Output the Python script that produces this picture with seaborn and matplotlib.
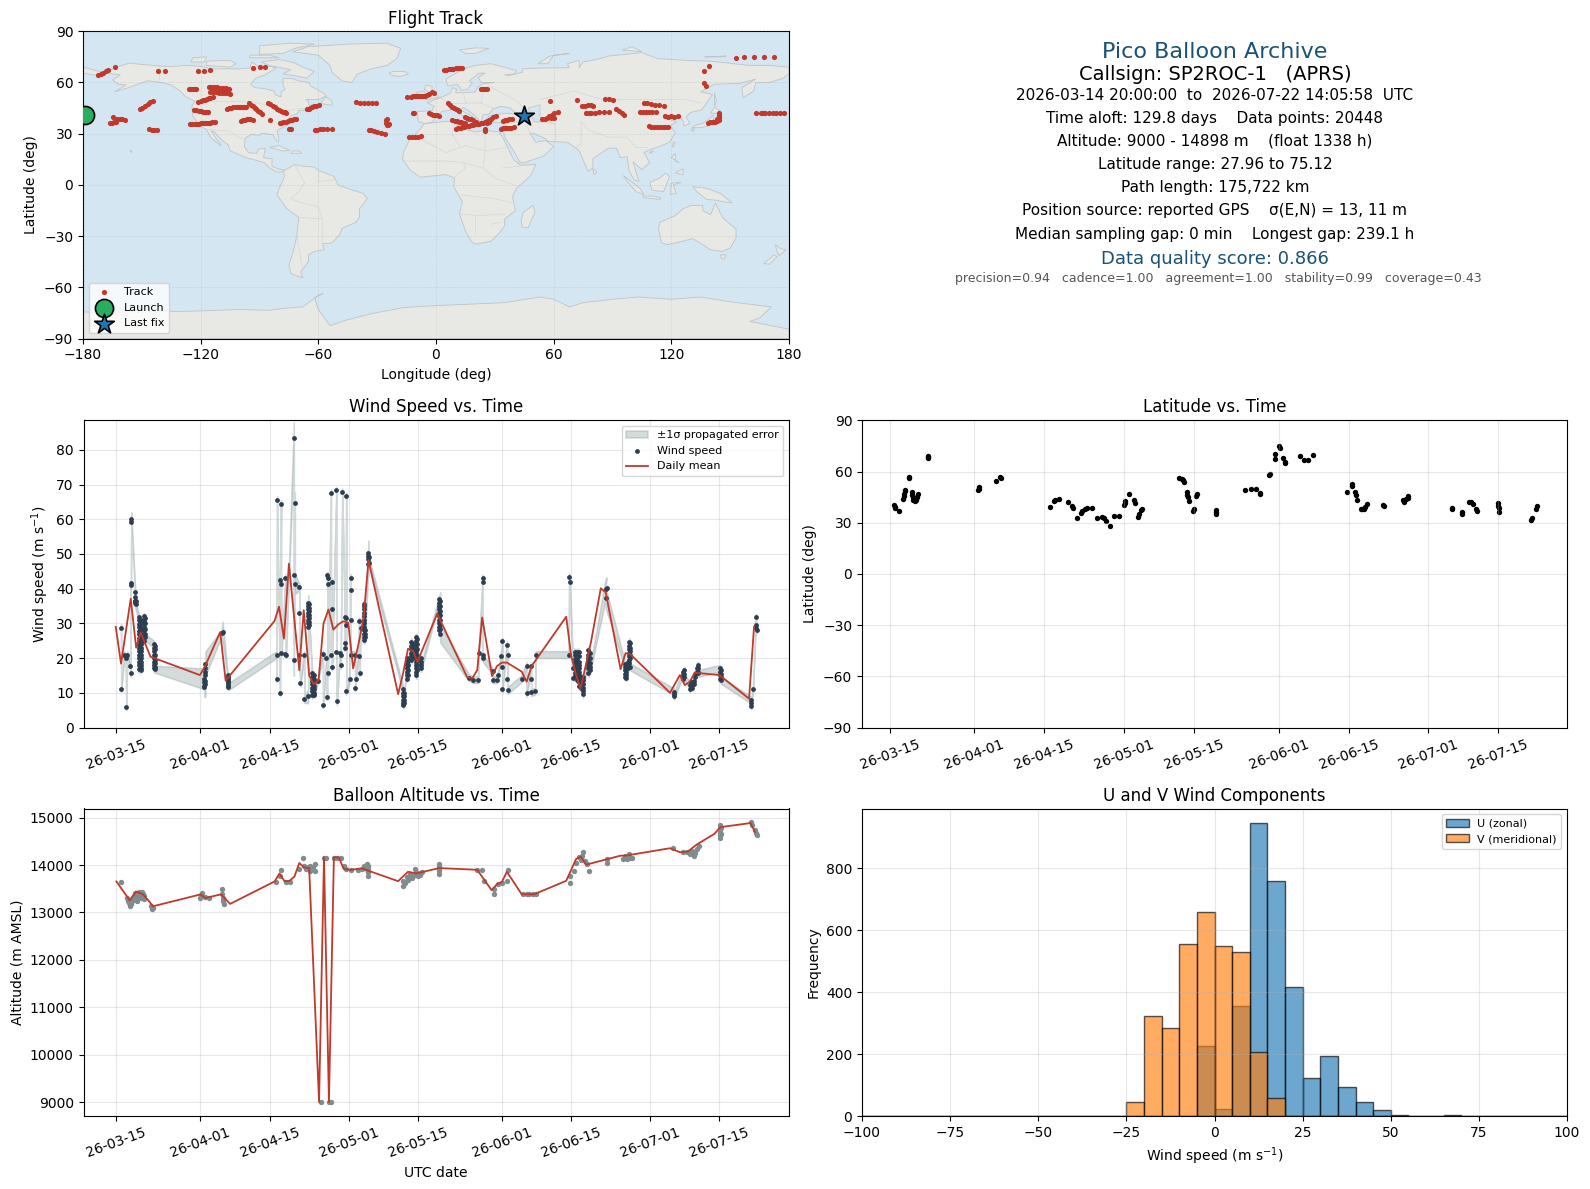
import matplotlib
matplotlib.use("Agg")
import matplotlib.dates as mdates
import matplotlib.pyplot as plt
import pandas as pd
import seaborn as sns

T0 = pd.Timestamp("2026-03-15")
T_START = pd.Timestamp("2026-03-14 20:00")
T_END = pd.Timestamp("2026-07-22 14:05")

# (lon, lat) fixes, one group per line
track_points = [
    (-172.3,64.3),(-171,65),(-170,65.5),(-168.5,66.7),(-167.5,67.4),(-163.5,68.9),
    (-166.4,36),(-165,36.5),(-164,36.8),(-163,37),(-164.5,39.5),(-162.5,38.8),(-161,38.9),(-160,38.5),(-158.7,37.8),
    (-150.7,44.4),(-150,45.3),(-148.5,46.2),(-147,47.3),(-146,48.3),(-144.2,49.1),
    (-146.3,32.7),(-145,32.4),(-143.8,32),(-142.5,31.9),
    (-141.7,66.5),(-138.1,66.5),(-121.2,66.5),(-118.2,66.5),(-115.1,67.1),(-93.1,68.5),(-90,68.9),(-87,68.9),
    (-125.8,55.9),(-124.8,55.9),(-123.8,55.9),(-122.8,56),(-122.4,55.9),
    (-116,57.3),(-114.5,57.3),(-113,57.3),(-111.5,57.2),(-110,57),(-108.5,57),(-107,56.8),(-113,55.8),(-111.5,55.6),(-110,55.6),(-108.5,55.6),(-107,55.6),(-105.5,56.3),
    (-115,54.7),(-113.5,54.5),(-112,54.3),(-110.5,54),(-109,54),(-107.5,54),(-106,53.8),(-105,53.2),
    (-121.2,48.7),(-120,49.2),(-119,49.6),(-118,49.9),(-117,50.3),(-116,50.7),(-115,51.2),(-113.9,51.6),
    (-123.4,43.8),(-122.2,43.6),(-121,43.3),(-120,43.2),(-119,43),(-118,42.9),(-117,42.9),(-116.1,42.8),
    (-125.5,35.4),(-124.3,35.5),(-123,35.7),(-122,35.7),(-121,35.9),(-120,36),(-119,36),(-118,36.2),(-117,36.2),(-116,36.4),(-115,36.5),(-114,36.6),(-112.7,36.9),
    (-106.7,44.6),(-105.5,44.8),(-104.5,45.2),(-103.3,45.4),(-102,45.6),(-101,45.6),(-100,45.8),(-99,45.8),(-97.8,45.8),(-96.9,45.8),
    (-99.6,37.5),(-98.6,37.9),(-97.6,38.1),(-96.6,38.4),(-95.6,38.4),(-94.6,38.5),(-93.5,38.3),
    (-95.2,47.7),(-94.3,46.8),(-93.3,46),(-92.5,45),(-91.8,44.3),(-91,43.4),(-90,42.7),(-88.7,41.5),
    (-85.5,48.1),(-84.4,47.3),(-83.3,46.3),(-82.2,45.5),(-81,44.6),(-80,43.8),(-79,43.2),(-78,42.9),(-77,42.6),(-76.4,42.4),
    (-84.4,38.3),
    (-79.8,36),(-78.8,36.2),(-77.8,36.6),(-76.7,37),(-75.6,37.4),(-74.5,37.8),(-73.4,38.1),(-72.3,38.4),(-71.3,38.7),
    (-75,33),(-74,32.6),
    (-65.9,44.2),(-65,44.6),(-64,45.1),(-63,45.7),(-62,46),(-61,46.5),(-59.9,46.9),
    (-61.6,32.1),(-60.5,32.3),(-59,32.5),(-57.5,32.5),(-55.5,32.5),(-53.1,32.5),
    (-41,48.5),(-39,47.7),(-36.8,47.7),(-34.7,47.7),(-32.7,47.7),(-30.6,47.7),
    (-34.4,31.9),(-33,31.9),(-31.5,31.7),(-30,31),(-28,30.5),(-25.8,29.9),
    (-25,38.9),(-25.3,37.9),(-25.5,36.5),(-25.2,35.2),(-24,35.5),(-24.5,35),
    (-13.9,27.8),(-12,27.8),(-10.5,27.8),(-9,28),(-7.9,28.6),
    (-14.8,51.6),(-13,51.6),(-11.5,52),(-10.5,52.3),(-9.5,52.3),(-8.5,52.3),(-7.5,52.3),(-6.5,52.3),(-5.5,52.3),(-4.5,52.5),(-3.5,53),(-2,54.6),(-1,54),
    (-11.8,41.9),(-11,41.9),(-3.7,41.9),(-2.5,41.7),(-1.5,41.2),(-0.5,41),(0.5,40.7),(1.4,40.5),
    (4,67.5),(5.2,67.6),(6.4,67.8),(7.6,68),(8.8,68.1),(10,68.3),(11.2,68.4),(12.4,68.5),(13.4,68.5),
    (22.7,55.9),(24,55.9),(25.2,55.9),(26.2,55.9),
    (6,47.7),(7,46.8),(8,45.9),(9,45),(10,44.4),(11,43.7),(11.7,43.4),
    (8.3,37.9),(9.5,37.6),(10.5,37.4),(11.5,37.1),(12.5,36.8),(13.5,36.4),(15,36),
    (10,33),(11.2,33.2),(12.5,33.5),(14.2,34),
    (15,39.5),(16,39.1),(17,38.8),(18,38.4),(19,37.8),(20.2,37),
    (15,34.4),(16,34.5),(17,34.8),(18,34.9),(19,35.2),(20.2,35.4),
    (21,35.6),(22,35.7),(23,36),(24,36.4),(25,36.8),(26,37.4),(27,38),(28,38.8),(29,39.5),(30.4,40.3),(26,36),(27,36.6),
    (24.8,31.5),(24.8,32.5),
    (34.3,37.3),(35.3,37.8),(36.3,38),(37.4,38.4),(38.6,38.9),
    (33,33),(34,33.1),(35,33.2),(36,33.4),(37,33.5),(38,33.6),(39.8,33.8),
    (54.3,38.7),(55.5,38.9),(56.5,39.4),(57.5,40.3),(58.5,39),(59,41),(60,42),(60,39),(62,42.6),(58.2,48.9),
    (72.1,49.7),(74.7,46.5),(76,46.5),(77.5,47),(79,46.7),(80.3,46.2),(86.3,50.1),(88,50.1),(90.5,49.5),
    (76.4,41.9),(77.8,41.9),(79,41.9),(81,42.1),(83,42.5),(85.5,43),(88,43),(91.7,44.2),(93.5,43.3),(94.8,42),(96,40.9),
    (106.2,47.7),(107.5,47.7),(109.5,47.3),(111.5,47),(113.5,46.6),(116.1,46.4),
    (104.2,43),(105.5,43),(107,43),(108.5,43),(110,43),(112.2,43),
    (108.8,34.6),(109.8,34.2),(111,33.9),(112.5,33.7),(114,33.7),(115.5,33.7),(117,33.7),(118.5,33.7),
    (117,40.1),(118.5,40),(120,40.1),(121.5,40),(123.2,40.1),
    (138.6,36.4),(139.5,36.6),(140.5,36.8),(141.5,36.9),(142.5,37.1),(143.5,37.3),(144.2,38),(144.5,39),(144.5,40),(144.5,41),(144.5,41.9),(143.5,38.5),(143,37.5),
    (136.9,59.5),(137.7,58),(136.9,66.5),(139.4,69.4),
    (153.2,74.1),(156.8,74.9),(161.9,74.9),(167,74.9),(172.1,74.9),
    (163,42.4),(165.5,42.4),(166.5,42.4),(168,42.4),(170,42.4),(172,41.9),(173.5,41.9),(175.5,41.9),(177.7,41.9),
]
launch_pos = (-179.1, 40.7)
last_pos = (44.9, 40.3)

# coarse land outlines, (lon, lat)
land_shapes = [
    [(-168,65.5),(-165,68),(-163,69),(-156.5,71.3),(-148,70.4),(-141,69.7),(-135,69.3),(-128,70),(-120,69.5),(-115,68),(-108,68),(-100,68),(-95,68.5),(-94,72),(-90,69),(-85,69.5),(-81.5,68.5),(-85,66),(-87,64.5),(-92,62.5),(-94.5,59),(-92.5,57),(-88,56.5),(-82.5,55),(-82,52.8),(-79,51.5),(-79,54.5),(-77,56),(-78,58.5),(-78,62.4),(-73.5,62.3),(-70,61),(-65,60),(-64,58),(-61.5,56.5),(-57,53.5),(-56,52),(-60,50),(-66.5,50),(-65,49),(-65,47),(-61,46),(-66,44),(-70,43.5),(-70.5,41.8),(-74,40.5),(-76,37),(-75.5,35.2),(-78,33.9),(-81,31.8),(-80.2,27),(-80.5,25.2),(-82,26.8),(-83,29.2),(-85,29.7),(-89,30.2),(-90,29),(-94,29.6),(-97.3,27.5),(-97.7,22.5),(-95.5,18.8),(-91.5,18.5),(-90.5,21),(-87,21.5),(-88,16),(-83.5,15.2),(-83.7,11),(-80,9.2),(-77.5,8.7),(-78.5,7.7),(-81,7.5),(-85,10),(-87.5,13),(-92,14.5),(-97,16),(-105,20),(-106,23.5),(-109,26),(-113,31),(-114.7,31.7),(-112,27),(-109.5,23),(-112,25),(-115,28),(-117,32.5),(-120.5,34.5),(-124,40.3),(-124.5,46),(-123,49),(-127.5,51.5),(-130.5,55),(-135,58.5),(-140,60),(-147,61),(-152,59),(-158,56.5),(-164,54.5),(-158,58.5),(-162,59),(-165,61.5),(-161,64.5)],
    [(-73,78),(-65,81),(-45,82.5),(-25,83),(-18,80),(-20,74),(-25,70),(-33,68),(-40,65),(-43,60),(-48,61),(-53,66),(-54,70),(-60,76)],
    [(-80,73.5),(-72,71.5),(-68,69),(-62,66.5),(-66,62.5),(-72,64),(-78,65),(-74,67.5),(-85,70),(-89,72)],
    [(-117,70),(-105,69),(-102,71),(-105,73),(-117,72.5)],
    [(-90,76.5),(-78,77),(-72,80),(-62,82.5),(-75,83),(-90,81.5)],
    [(-125,72),(-118,72),(-117,75),(-124,74.5)],
    [(-95,74.5),(-80,74.5),(-85,76),(-95,76)],
    [(-59,47.7),(-53,46.7),(-53,49),(-56,51.5)],
    [(-85,22),(-80,23),(-74.5,20.2),(-78,19.9)],
    [(-74,18.5),(-68.5,18.5),(-70,19.9),(-73,19.9)],
    [(-156,20.5),(-155,19.6),(-155.6,19)],
    [(-78,8),(-72,12),(-68,11),(-62,10.5),(-60,8.5),(-52,5),(-50,0),(-44,-2.5),(-37,-5),(-35,-8),(-39,-14),(-39,-19),(-41,-22),(-48,-25.5),(-49,-29),(-53,-34),(-58,-34.5),(-57,-38),(-62,-39),(-65,-41),(-65,-45),(-69,-51),(-68,-54.5),(-74,-52),(-75,-47),(-73,-40),(-71,-30),(-70,-19),(-76,-14),(-81,-6),(-80,-2),(-77.5,4),(-77.5,7)],
    [(-6,35.8),(3,37),(10,37.3),(11,33.5),(20,31),(25,32),(32,31),(34,28),(37,21),(39.5,15),(43,11.5),(51,12),(48,5),(41,-2),(39,-7),(40.5,-15),(35,-20),(35,-24),(32.5,-28),(28,-33),(20,-34.8),(18,-33),(15,-27),(12,-17),(13.5,-10),(9,-1),(9.5,4),(5,6),(-4,5),(-8,4.5),(-13,8.5),(-17,14.7),(-16.5,19.5),(-13,27.5),(-10,30)],
    [(49.5,-12),(50.5,-16),(47,-25),(44,-25),(43.5,-21),(44.5,-16)],
    [(-9,37),(-9.5,43),(-2,43.5),(-1,46),(-4.5,48.3),(2,51),(7,53.5),(8.5,57),(10.5,56),(10,54),(14,54),(20,54.5),(21,57),(24,59.3),(30,60),(23,60),(21.5,63),(25,65.5),(22,65.5),(17,61),(18.5,59.5),(16,56),(13,55.5),(11,59),(6,58),(5,62),(14,68),(20,70),(28,71),(41,67),(40,65),(35,64.5),(37,64),(44,66),(44,68),(54,68.5),(68,68.7),(67,71),(73,73),(73,68.5),(75,72),(82,73.5),(88,75.5),(105,77.5),(113,74),(127,73),(140,72.5),(160,70),(170,70),(180,69),(180,65),(177,62.5),(170,60),(163,59.8),(162,55),(156.5,51),(156,57),(163,62),(155,59.5),(142,59),(135,54.5),(141,53),(135.5,44),(130,42.5),(127.5,39.8),(129.5,36),(126.5,34.5),(126,37.5),(124.5,40),(121,39),(118,39),(122.5,37),(119.5,34.5),(122,30.5),(119,25),(114,22.5),(110,21),(106,19),(109,13),(105,9),(100.5,13.5),(103.5,2),(101,3),(98.5,8),(97.5,16.5),(94,16),(92,21.5),(88,21.5),(80,15.5),(80,10),(77.5,8),(73,20),(72,21),(67,25),(57,25.5),(56,27),(50,30),(48,30),(51,25),(56,26),(60,22.5),(55,17),(45,13),(43,13),(39,21),(35,28),(34.5,31),(36,36.5),(30,36.5),(27,37),(26.5,40),(29,41),(36,42),(41,41.5),(38,45),(33,46),(29,44.5),(27,41.5),(24,41),(23,36.5),(19.5,41),(14,45.5),(12.5,44),(18.5,40),(16,38),(12,42),(9,44.3),(3,43),(0,39.5),(-2,36.8),(-5.5,36)],
    [(-180,69),(-175,67.5),(-170,66),(-173,64.3),(-180,65.5)],
    [(-5.5,50),(1.5,51.2),(0,53.5),(-2,56),(-2,57.7),(-5,58.5),(-6,56),(-3,54),(-5,52)],
    [(-10,52),(-6,52.3),(-6,55),(-10,54)],
    [(-24,65.5),(-22,64),(-18,63.5),(-14,65),(-16,66.5),(-22,66.5)],
    [(12,79),(20,80.3),(27,80),(20,77),(15,77)],
    [(52,71),(57,71),(60,76),(68,77),(58,75.5)],
    [(95,79),(105,78),(100,81)],
    [(137,75),(145,75),(148,75.5)],
    [(142,54),(143,49),(142,46),(142,50)],
    [(130.5,33.5),(135,33.5),(140,35),(141.5,38),(141.3,41),(139.7,39),(136,36),(132,35)],
    [(140,42),(143,42),(145,43.5),(142,45.5)],
    [(130,32),(131.5,31.5),(131.5,33.8)],
    [(120.5,23),(121,25),(122,25),(121,22)],
    [(109,18.5),(111,19.5),(110,20)],
    [(80,9.5),(82,7.5),(80.5,6)],
    [(95.5,5.5),(104,-2),(106,-5.8),(102,-4),(98,1.5)],
    [(105.5,-6.5),(111,-6.5),(114.5,-7.5),(114.5,-8.5),(106,-7.5)],
    [(109,1.5),(114,4),(117,7),(119,5),(117.5,0),(116,-4),(110,-3)],
    [(119.5,-5.5),(120,1),(125,1.5),(121,0),(122.5,-5)],
    [(131,-1),(138,-2),(145,-5),(151,-10.5),(147,-10),(143,-9),(138,-8.5),(133,-4)],
    [(120,16),(122,18.5),(122,14),(124,13)],
    [(122,7),(126,9.5),(126,6)],
    [(114,-22),(122,-18),(126,-14),(130,-12),(136,-12),(136,-15),(140,-17.5),(142.5,-10.7),(146,-19),(153,-26),(153,-31),(150,-37),(146,-39),(140,-38),(136,-35),(131,-31.5),(124,-33.5),(118,-35),(115,-34),(113.5,-26)],
    [(145,-41),(148,-41),(147,-43.5),(145.5,-43)],
    [(173,-35),(176,-37.5),(178.5,-38),(175,-41.5),(174,-39)],
    [(172,-41),(174,-42),(170,-46.5),(167,-46),(171,-42.5)],
    [(-180,-90),(-180,-74.5),(-150,-74.5),(-125,-74),(-100,-73),(-85,-73.5),(-75,-72),(-68,-71.5),(-60,-65),(-57.5,-63.5),(-62,-66),(-60,-73),(-54,-82.5),(-45,-79),(-33,-75.5),(-17,-72),(-5,-71),(15,-70),(35,-69),(53,-65.7),(60,-67),(68,-71.5),(75,-69),(90,-67),(103,-65.7),(120,-67),(135,-65.7),(150,-68.5),(171,-71.5),(165,-78),(160,-80),(180,-84.5),(180,-90)],
]
caspian_shape = [(47,45),(53,47),(53,40),(54,37),(50,37),(49,40)]
border_lines = [
    [(-141,69.7),(-141,60)],[(-123,49),(-95,49),(-83,46),(-79,43),(-67,45)],
    [(-117,32.5),(-106,31.5),(-97.3,26)],[(-70,-19),(-58,-20),(-58,-34)],[(-70,-10),(-60,-13),(-58,-20)],
    [(-72,12),(-67,1),(-70,-4),(-74,-8),(-70,-10)],[(-60,8.5),(-60,2),(-52,3)],[(-71,-30),(-68,-50)],
    [(-13,27.5),(-8,27),(5,19),(15,23),(25,20),(37,22)],[(25,32),(25,20),(24,10),(30,4),(42,-1)],
    [(-17,14),(5,14),(14,13),(24,10)],[(9,4),(15,10),(14,13)],[(13,-6),(30,-8),(40,-11)],
    [(12,-17),(23,-18),(35,-17)],[(20,-29),(20,-18)],[(28,-23),(33,-22)],[(34,10),(43,11)],[(10,37),(8,30),(12,23)],
    [(27,58),(40,50),(48,42)],[(53,50),(70,55),(85,50),(98,50),(115,50),(127,50),(135,48)],
    [(74,37),(78,32),(88,28),(97,28),(102,22),(108,22)],[(61,25),(61,36),(48,39)],[(46,36),(48,30)],[(36,36),(46,37),(61,36)],
    [(74,37),(74,24),(70,21)],[(2,51),(7,48),(7,44)],[(14,54),(15,48),(23,48),(24,54)],[(15,48),(7,48)],[(23,48),(29,45)],
]

# (day since Mar 15, wind speed) in time order
wind_points = [
    (0.94,28.8),(0.97,11.2),(1.6,21),(1.9,20),(2.0,6),(2.2,21),(2.85,17.6),(2.88,15.6),(2.9,41),(2.95,41.5),(3,59.3),(3.02,60),
    (3.8,39),(3.82,37.5),(3.85,36.5),(3.9,35.5),(3.95,36.5),(3.7,36.5),(3.75,35.8),
    (4.5,31.9),(4.5,30.9),(4.5,29.9),(4.5,28.9),(4.5,27.9),(4.5,26.9),(4.5,25.9),(4.5,24.9),(4.5,23.9),(4.5,22.9),(4.5,21.9),(4.5,20.9),(4.5,19.9),(4.5,18.9),(4.5,17.9),(4.5,16.9),
    (4.9,31),(4.9,30),(4.9,29),(4.9,28),(4.9,27),(4.9,26),(4.9,25),(4.9,24),(4.9,23),(4.9,22),(4.9,21),(4.9,20),(4.9,19),(4.9,18),(4.9,17),(4.9,16.5),
    (5.6,32),(5.6,31),(5.6,30),(5.6,29),(5.6,28),(5.6,27),(5.6,26),(5.6,25),(5.8,31.5),(5.8,30),(5.8,28.5),(5.8,27),(5.8,26),
    (7.6,24),(7.6,23),(7.6,22),(7.6,21),(7.6,20),(7.6,19),(7.6,18),(7.6,17),(7.75,23.5),(7.75,22.5),(7.75,21),(7.75,19.5),(7.75,18.5),(7.75,17.5),(7.75,16.8),
    (17.8,14),(17.8,13),(17.8,12),(17.8,11.7),(18,13.5),(18,12.5),(18,15),(18,16),(18,17),(18,18.4),
    (21.3,27.2),(21.5,27.5),(22.5,15),(22.5,14),(22.5,13),(22.5,12),(22.6,14.5),(22.6,13.5),(22.6,12.5),(22.6,11.7),
    (32.4,21),(32.4,14.1),(32.5,65.6),(33.1,10),(33.2,42.4),(33.3,64.5),(33.3,41.4),(33.4,21.6),(34.2,43.2),(34.2,21.3),(34.3,21),
    (35.9,83.4),(35.9,43.8),(35.9,19.4),(36.1,64.7),(36.1,41.4),(37,40.5),(37,33.1),(37,21),(37.2,12.7),(38,21),(38,8.1),(38.8,9),
    (38.8,36),(38.8,35),(38.8,34),(38.8,33),(38.8,32),(38.8,31),(38.8,30),(38.8,29),(39.05,35.5),(39.05,34.5),(39.05,33.5),(39.05,32.5),(39.05,31.5),(39.05,30.5),(39.05,29.5),
    (39.6,15.6),(39.6,14.5),(39.6,13.5),(39.6,12.5),(39.6,11.5),(39.6,10.5),(39.6,9.3),(39.9,15),(39.9,14),(39.9,13),(39.9,12),(39.9,11),(39.9,10),(39.9,9.5),
    (40.7,13.5),(41.8,21.3),(41.8,6.6),(42.5,20),(42.6,8.9),(42.7,43.8),(42.75,41.4),(42.8,43),(42.8,15.6),
    (43.4,67.6),(43.4,21),(43.6,41.9),(43.6,34),(43.6,17.4),(44.5,68.3),(44.5,21.8),(44.6,7.5),(45.2,21.5),(45.4,17.9),(45.4,20.8),
    (45.7,67.9),(46.2,31.7),(46.2,24.2),(46.2,23),(46.4,31.5),(46.5,66.6),(46.5,29.5),(46.5,10.5),
    (47.2,14.1),(47.4,43.2),(47.4,39.7),(47.4,31.1),(47.4,21),(48.3,21),(48.3,11.5),(48.4,14.1),(49,20.7),(49.1,30.7),(49.2,15.8),(49.4,28.8),
    (50.1,35.7),(50,35),(50,34),(50.1,33),(50.1,32),(50.1,31),(50,30),(50,29),(50.1,28),(50.1,27),(50.1,26),(50.1,25.1),(50.3,28),(50.3,27),(50.3,26),
    (51,50.3),(51,49.5),(51,48.5),(51,47.2),(51.2,49),(51.2,47.5),
    (58,11),(58,10),(58,9),(58,8),(58,7),(58,6.5),(58.2,10),(58.2,9),(58.2,8),(58.2,7),
    (58.7,20),(58.7,19),(58.7,18),(58.7,17),(58.7,16),(58.7,15),(58.7,14),(59,19.5),(59,18),(59,16.5),(59,15),
    (59.7,24.7),(59.7,23.5),(59.7,22.5),(59.7,21.5),(59.7,20.5),(59.7,19.4),(60,24),(60,23),(60,22),(60,21),(60,20),
    (60.7,26),(60.7,25),(60.7,24),(60.7,23),(60.7,22),(60.7,21),(60.7,20),(60.7,19),(60.7,18),(60.7,17),(60.7,16),(60.7,15),(60.9,25.5),(60.9,24),(60.9,22.5),(60.9,21),(60.9,19.5),(60.9,18),(60.9,16.5),
    (61.6,20),(61.6,19),(61.6,18),(61.6,17),
    (65.3,37),(65.3,36),(65.3,35),(65.3,34),(65.3,33),(65.3,32),(65.3,31),(65.3,30),(65.3,29),(65.3,28),(65.5,36.5),(65.5,35),(65.5,33.5),(65.5,32.5),(65.5,31),(65.5,29.5),(65.5,28.5),(65.5,27),
    (71.3,14.4),(72.1,13.8),(73.2,13.8),(73.3,21.5),(74.1,43),(74.1,41.8),(74.1,20.8),(74.1,20),
    (76.1,16.3),(76.1,13.8),(77,13.8),(77.2,15),(77.8,20.7),(78.1,24.8),(78.1,17.3),(78.1,11.2),
    (79,23.9),(79.1,14.1),(79.2,21),(79.2,10.7),(82,14.1),(83,17.8),(83,9.8),(83.9,17.8),(83.9,14.1),(83.9,10.1),(84.7,10.4),(84.8,21),
    (91.5,21),(91.6,43.4),(91.7,41.8),(92.4,17),(92.4,14.4),
    (92.7,21.8),(92.7,20.8),(92.7,19.8),(92.7,18.8),(92.7,17.8),(92.7,16.8),(92.7,15.8),(92.7,14.8),
    (93.1,21.8),(93.1,20.8),(93.1,19.8),(93.1,18.8),(93.1,17.8),(93.1,16.8),(93.1,15.8),(93.1,14.8),(93.1,13.8),
    (93.5,21.8),(93.5,20.5),(93.5,19),(93.5,18),(93.5,17),(93.5,16),(93.5,15),(93.5,14),(93.5,13),(93.5,12),
    (93.9,14.6),(93.9,13.6),(93.9,12.6),(93.9,11.5),(94.4,14.6),(94.4,13.6),(94.4,12.6),(94.4,11.5),(94.4,10.5),(94.4,9.6),
    (95.5,22.3),(95.5,21),(95.5,20),(95.5,19),(95.5,18),(95.5,17),(95.5,15.6),(95.8,21.5),(95.8,20),(95.8,18.5),(95.8,17.5),(95.8,16.5),
    (99,40),(99.2,40.2),(99,37.3),
    (102.8,18.4),(102.8,17.5),(102.8,16.5),(102.8,15.5),(102.8,14.6),(103.1,18),(103.1,17),(103.1,16),(103.1,15),(103.1,14.4),(103.5,19),(103.5,18),(103.5,17.2),
    (103.8,24.7),(103.8,23.5),(103.8,22.5),(103.8,21.5),(103.8,20.5),(103.8,19.5),(103.8,18.5),(104,24.2),(104,23),(104,22),(104,21),(104,20),(103.9,17.5),
    (112.8,10.3),(112.8,9.6),(112.8,9),(114.7,16),(114.7,15),(114.7,14),(114.9,16.5),(114.9,15.5),(114.9,14.5),
    (116,12.2),(116,11.2),(116.3,13),(116.5,12.2),(116.5,11.5),(116.8,13.5),(116.8,12.5),(117,15.5),(117,14.5),(117.4,17),(117.4,16),(117.7,18),(117.7,17),(117.7,16),(117.7,15.6),
    (122.1,17),(122.1,16),(122.1,15),(122.1,14),(122.3,16.5),(122.3,15.5),(122.3,14.5),(122.3,13.6),
    (128.4,7.9),(128.4,7),(128.4,6.2),(128.8,11.2),(129.4,31.7),(129.4,29.5),(129.4,28.7),(129.5,28),
]
wind_sigma = 1.0
# points whose error bar is visibly wider than the rest
wind_sigma_wide = {3.02: 2.0, 17.8: 3.0, 18: 3.5, 21.5: 3.0, 35.9: 4.5, 36.1: 3.0, 51: 3.5, 65.5: 2.5, 99: 3.0, 99.2: 3.0, 38.8: 2.0}

# daily means, (day since Mar 15, value)
wind_daily = [
    (-0.13,29),(0.94,18.4),(2.9,37.1),(4,23),(4.9,27.4),(6.9,20.4),(16.9,15.1),(17.9,17.5),(21,27.5),(22.1,13.5),
    (32,30.7),(32.9,34.8),(33.9,25.6),(34.9,47.2),(37,16.5),(37.9,33.8),(39,15),(39.9,12.5),(40.9,13.6),(41.9,29.9),
    (42.9,34),(43.9,28.2),(44.9,29.7),(45.9,30.6),(46.9,30.2),(47.9,17),(49,24.2),(50,31.4),(51,48.2),(57,9.6),
    (58,15.6),(59,22.7),(60,22.1),(60.9,18.9),(64.9,32.8),(71,14.4),(72,14.2),(73,16.5),(74,31.7),(76,14.8),
    (77,17.7),(78,18.7),(79,18.7),(82,16.1),(83,13.2),(84,17.7),(91,31.9),(92,20.7),(92.9,15.6),(93.9,11.2),
    (96,24.5),(98,40.1),(99,38.9),(102,16.8),(103,21.4),(103.9,21.2),(112,10),(114,15.1),(115,12.2),(116,13.2),
    (117,15.8),(122,15.1),(128,8.3),(129,29),
]

# (day since Mar 15, latitude)
lat_points = [
    (0.8,40.2),(1,39.4),(1.15,38.6),(1.8,36.9),(2.7,44.1),(2.8,45.5),(2.9,47),(3,48.3),(3.1,49.4),(3.8,56.9),(3.85,56.2),
    (4.5,48),(4.55,46.5),(4.6,45),(4.7,43.5),(5,42.5),(5.3,43.5),(5.4,45),(5.6,46.7),(5.2,44),(7.6,68.6),(7.6,67.8),(7.65,69),
    (17.8,49),(17.9,50),(18,51),(21.4,54.7),(22.2,56.5),(22.3,56),
    (32.1,39.4),(32.9,42.7),(33.2,43.3),(33.9,43.7),(35.7,42.4),(36.6,39.7),(36.7,38.8),(37.6,32.5),(38.3,35.7),(38.6,36.8),(39.1,38.2),(39.6,38.8),(40.5,38.8),
    (41.5,33),(42.5,33.1),(42.9,32.5),(43.3,31),(44.1,27.8),(45,33.7),(46,33.7),(47,40.2),(47.1,41.5),(47.2,42.7),(48,47),(48.9,43.1),(49.1,41.5),
    (49.8,33.3),(49.9,35),(50.4,37.3),(50.5,38),
    (58.1,55.9),(58.6,55.5),(58.9,54.9),(59.1,53.6),(59.6,48),(59.7,46.5),(59.8,45),(60,43),(60.8,36.9),(61,38.2),(61.5,45.5),(61.6,46.7),
    (65.5,37.3),(65.5,36),(65.5,34.9),(71.3,49.4),(72.5,50),(73.4,50),(74.2,46.7),(74.2,47.6),(76.1,57.8),(76.2,58.8),
    (77.2,67.3),(77.3,70.4),(78.1,74.9),(78.3,74),(78.9,68.2),(79.2,65.8),(79.3,64.7),
    (82.2,69),(83,67),(83.9,67),(84.9,69.4),
    (91.6,48),(92.6,52.5),(92.7,51.5),(93.3,48),(93.5,46),(93.6,43.5),
    (94.4,38.2),(94.6,37.8),(95,38.2),(95.3,39),(95.6,40.8),(99,40.2),(99.1,39.6),
    (103,43.1),(103.2,42.3),(103.5,44),(104,45.5),(104,44.5),
    (112.8,38.8),(112.8,37.8),(114.8,35.3),(114.8,36.3),(116.1,42.2),(116.6,42.4),(116.9,41.2),(117.7,36.9),(117.5,38),
    (122,41.6),(122,40),(122.1,38.5),(122.2,36.3),(128.6,31.4),(128.7,33),(129.7,39.6),(129.5,38.2),
]

# (day since Mar 15, altitude)
alt_points = [
    (0.9,13645),(2.2,13300),(2.4,13250),(2.6,13200),(2.8,13130),(3,13170),(3.2,13250),(3.4,13300),(3.5,13340),(3.8,13400),(4,13350),(4.2,13250),(4.4,13340),(4.5,13430),(4.8,13400),(5,13300),(5.2,13440),(5.4,13380),(5.6,13280),(5.5,13340),(5,13370),
    (7,13130),(7.2,13080),(7.4,13100),(17,13300),(17.1,13360),(17.3,13420),(18,13320),(18.8,13300),
    (21.4,13490),(21.4,13380),(21.6,13240),(21.7,13170),(21.5,13300),
    (32.3,13650),(33.3,13894),(33.1,13770),(34.3,13650),(35.2,13650),(37,13920),(37.7,14150),(37.9,13990),(38.3,13920),(39.2,13990),(40.2,14030),(40.2,13880),(39.2,13880),(39.8,13950),(38.7,13960),
    (41.3,9000),(42,14150),(42.5,14150),(43,9000),(43.5,9000),(44,14150),(45.4,14150),(44.6,14150),
    (46,13990),(46.5,13910),(47.4,13900),(48.8,13900),(49.7,13920),(50.1,13990),(50.6,14010),(51,13990),(51,13850),(51,13760),(50.8,13920),(50.3,13940),(50.8,14030),(51,13920),
    (58,13670),(58,13560),(58.4,13620),(58.7,13740),(59,13680),(59.3,13810),(59.6,13780),(59.9,13720),(60.4,13920),(60.4,13780),(60.6,13850),(61,13760),(61.4,13780),(61.9,13850),(61.5,13830),
    (65.3,14020),(65.3,13970),(65.3,13920),(65.3,13870),(65.3,13820),(73,13900),(74,13900),(74.3,13670),(76.3,13490),(76.3,13380),(77.2,13600),(78.1,13630),(79,13670),(79.2,13900),
    (82.2,13380),(83,13380),(83.5,13380),(84.2,13380),(84.9,13380),(91.7,13630),(91.7,13770),(92.6,13880),(93.5,14160),(94,14110),(94.4,14270),(94.1,14200),(94.8,14090),(95.7,13880),(95.3,14020),(92.9,14040),
    (99.2,14130),(99.2,14040),(102.8,14200),(103.2,14130),(103.7,14230),(104,14150),(104.3,14150),(102.5,14130),
    (112.7,14370),(114.6,14270),(115.5,14270),(116,14240),(116.9,14200),(117.4,14340),(117.8,14410),(116.5,14300),(117.1,14260),
    (122.2,14840),(122.2,14780),(122.2,14700),(122.2,14640),(122.2,14570),(122.3,14780),(122.3,14660),(128.3,14900),(128.6,14840),(129.2,14730),(129.6,14630),(129.4,14680),
]
alt_daily = [
    (0,13653),(2.7,13255),(4,13440),(5.4,13380),(6.5,13250),(7.4,13130),(17,13380),(18,13305),(21.2,13383),(23,13180),
    (32,13653),(33,13823),(34,13660),(35,13667),(36,13752),(37,14043),(38,13950),(39,13936),(41,9000),(42,14163),
    (43,9000),(44,14163),(45,14163),(46,13915),(47.4,13900),(49.7,13930),(50.6,13894),(57,13660),(59,13858),(60.7,13823),
    (65.3,13936),(73,13900),(75.9,13470),(77,13596),(78,13645),(79,13858),(82,13383),(84.5,13383),(91,13667),(93,14128),
    (94,14177),(95,14007),(102,14198),(103,14198),(112,14355),(114,14270),(115.6,14284),(117.4,14432),(121,14660),(122.2,14800),
    (128.3,14886),(129.2,14695),
]

# 5 m/s bins from -100 to 100
bin_edges = list(range(-100, 105, 5))
u_counts = {-5:227, 0:22, 5:354, 10:944, 15:759, 20:416, 25:122, 30:195, 35:93, 40:46, 45:20, 50:2, 65:3}
v_counts = {-25:46, -20:321, -15:283, -10:555, -5:657, 0:548, 5:528, 10:205, 15:57}

WIDTH, HEIGHT = 1590, 1189


def px_axes(fig, left, top, right, bottom):
    return fig.add_axes([left / WIDTH, 1 - bottom / HEIGHT, (right - left) / WIDTH, (bottom - top) / HEIGHT])


def obs_frame(points, name):
    df = pd.DataFrame(points, columns=["day", name])
    df["t"] = T0 + pd.to_timedelta(df["day"], unit="D")
    return df


def format_time_axis(ax, limits=None):
    span = T_END - T_START
    if limits is None:
        limits = (T_START - span * 0.05, T_END + span * 0.05)
    ax.set_xlim(*limits)
    ax.xaxis.set_major_locator(mdates.DayLocator(bymonthday=[1, 15]))
    ax.xaxis.set_major_formatter(mdates.DateFormatter("%y-%m-%d"))
    ax.tick_params(axis="x", labelrotation=20)
    ax.grid(True, alpha=0.3)


def hist_frame(counts):
    centers = [e + 2.5 for e in bin_edges[:-1]]
    return pd.DataFrame({"x": centers, "n": [counts.get(e, 0) for e in bin_edges[:-1]]})


fig = plt.figure(figsize=(WIDTH / 100, HEIGHT / 100), dpi=100)

# flight track map
ax = px_axes(fig, 83, 31.3, 789, 338.5)
ax.set_facecolor("#d4e6f1")
for shape in land_shapes:
    ax.fill(*zip(*shape), facecolor="#e8e8e4", edgecolor="#bfc5c7", linewidth=0.6, zorder=1)
ax.fill(*zip(*caspian_shape), facecolor="#d4e6f1", edgecolor="#bfc5c7", linewidth=0.5, zorder=1)
for line in border_lines:
    ax.plot(*zip(*line), color="#d6d8d6", linewidth=0.5, zorder=1.5)
track = pd.DataFrame(track_points, columns=["lon", "lat"])
sns.scatterplot(data=track, x="lon", y="lat", s=14, color="#c0392b", linewidth=0, ax=ax, zorder=3, label="Track")
sns.scatterplot(x=[launch_pos[0]], y=[launch_pos[1]], s=170, color="#27ae60", edgecolor="black", linewidth=1.2,
                ax=ax, zorder=4, label="Launch")
sns.scatterplot(x=[last_pos[0]], y=[last_pos[1]], s=220, marker="*", color="#1f77b4", edgecolor="black", linewidth=1.2,
                ax=ax, zorder=4, label="Last fix")
ax.set_xlim(-180, 180)
ax.set_ylim(-90, 90)
ax.set_xticks(range(-180, 181, 60))
ax.set_yticks(range(-90, 91, 30))
ax.grid(True, linestyle="--", linewidth=0.5, color="#888888", alpha=0.18, zorder=2)
ax.set_axisbelow(False)
ax.set_title("Flight Track", fontsize=12, pad=5)
ax.set_xlabel("Longitude (deg)")
ax.set_ylabel("Latitude (deg)")
ax.legend(loc="lower left", fontsize=8, framealpha=0.8)

# summary text
info_x = 1215 / WIDTH
info_lines = [
    (52.5, "Pico Balloon Archive", 16, "#1a5276"),
    (75, "Callsign: SP2ROC-1   (APRS)", 14, "black"),
    (95.5, "2026-03-14 20:00:00  to  2026-07-22 14:05:58  UTC", 11, "black"),
    (118.5, "Time aloft: 129.8 days    Data points: 20448", 11, "black"),
    (141.5, "Altitude: 9000 - 14898 m    (float 1338 h)", 11, "black"),
    (164.5, "Latitude range: 27.96 to 75.12", 11, "black"),
    (187.5, "Path length: 175,722 km", 11, "black"),
    (210.5, "Position source: reported GPS    σ(E,N) = 13, 11 m", 11, "black"),
    (234, "Median sampling gap: 0 min    Longest gap: 239.1 h", 11, "black"),
    (259.5, "Data quality score: 0.866", 13, "#1a5276"),
]
for y_px, text, size, color in info_lines:
    fig.text(info_x, 1 - y_px / HEIGHT, text, ha="center", va="center", fontsize=size, color=color)
fig.text(1218 / WIDTH, 1 - 279 / HEIGHT, "precision=0.94   cadence=1.00   agreement=1.00   stability=0.99   coverage=0.43",
         ha="center", va="center", fontsize=9, color="#555555")

# wind speed
ax = px_axes(fig, 83.5, 420.3, 789, 727.5)
wind = obs_frame(wind_points, "speed")
wind["sigma"] = wind["day"].map(wind_sigma_wide).fillna(wind_sigma)
ax.fill_between(wind["t"], wind["speed"] - wind["sigma"], wind["speed"] + wind["sigma"], facecolor="#95a5a6",
                edgecolor="#95a5a6", alpha=0.4, linewidth=1.1, label="±1σ propagated error", zorder=1)
sns.scatterplot(data=wind, x="t", y="speed", s=12, color="#2c3e50", linewidth=0, ax=ax, zorder=2, label="Wind speed")
sns.lineplot(data=obs_frame(wind_daily, "speed"), x="t", y="speed", color="#c0392b", linewidth=1.3, sort=False,
             errorbar=None, ax=ax, zorder=3, label="Daily mean")
format_time_axis(ax)
ax.set_ylim(0, 88.5)
ax.set_title("Wind Speed vs. Time", fontsize=12)
ax.set_xlabel("")
ax.set_ylabel("Wind speed (m s$^{-1}$)")
ax.legend(loc="upper right", fontsize=8)

# latitude
ax = px_axes(fig, 862, 420.3, 1567, 727.5)
sns.scatterplot(data=obs_frame(lat_points, "lat"), x="t", y="lat", s=15, color="black", linewidth=0, ax=ax)
format_time_axis(ax, (pd.Timestamp("2026-03-09 11:00"), pd.Timestamp("2026-07-28 19:00")))
ax.set_ylim(-90, 90)
ax.set_yticks(range(-90, 91, 30))
ax.set_title("Latitude vs. Time", fontsize=12)
ax.set_xlabel("")
ax.set_ylabel("Latitude (deg)")

# altitude
ax = px_axes(fig, 83.5, 808.5, 789, 1116)
sns.scatterplot(data=obs_frame(alt_points, "alt"), x="t", y="alt", s=15, color="#7f8c8d", linewidth=0, ax=ax, zorder=2)
sns.lineplot(data=obs_frame(alt_daily, "alt"), x="t", y="alt", color="#c0392b", linewidth=1.3, sort=False,
             errorbar=None, ax=ax, zorder=3)
format_time_axis(ax)
ax.set_ylim(8705, 15193)
ax.set_title("Balloon Altitude vs. Time", fontsize=12, pad=5.5)
ax.set_xlabel("UTC date")
ax.set_ylabel("Altitude (m AMSL)")

# wind components
ax = px_axes(fig, 862, 808.5, 1567, 1116)
sns.histplot(data=hist_frame(u_counts), x="x", weights="n", bins=bin_edges, color="C0", alpha=0.65,
             edgecolor=(0, 0, 0, 0.65), linewidth=1, ax=ax, label="U (zonal)")
sns.histplot(data=hist_frame(v_counts), x="x", weights="n", bins=bin_edges, color="C1", alpha=0.65,
             edgecolor=(0, 0, 0, 0.65), linewidth=1, ax=ax, label="V (meridional)")
ax.set_xlim(-100, 100)
ax.set_ylim(0, 992)
ax.grid(True, alpha=0.3)
ax.set_title("U and V Wind Components", fontsize=12, pad=5.5)
ax.set_xlabel("Wind speed (m s$^{-1}$)")
ax.set_ylabel("Frequency")
ax.legend(loc="upper right", fontsize=8)

fig.savefig("out.png", dpi=100)
plt.close(fig)
